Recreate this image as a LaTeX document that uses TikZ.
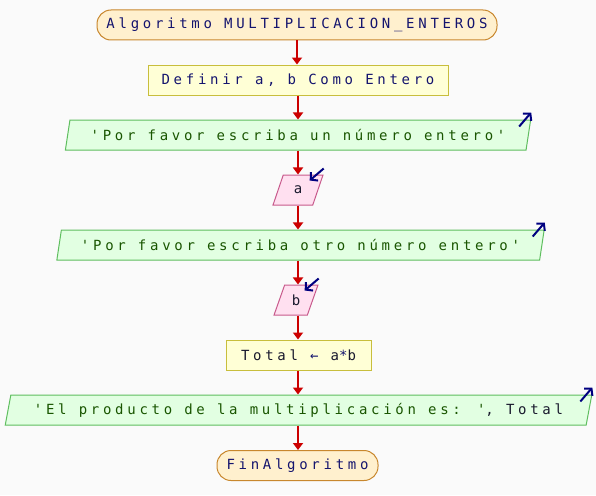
\documentclass[tikz,border=0pt]{standalone}
\usepackage{fontspec}
\usetikzlibrary{shapes.geometric,calc,arrows.meta}
\newfontfamily\psfont[LetterSpace=26.5,Ligatures=TeXOff]{DejaVu Sans Mono}
\definecolor{cbg}{RGB}{250,250,250}
\definecolor{cterm}{RGB}{200,135,45}
\definecolor{ctermfill}{RGB}{255,240,206}
\definecolor{cproc}{RGB}{200,190,60}
\definecolor{cprocfill}{RGB}{255,255,214}
\definecolor{cout}{RGB}{95,190,95}
\definecolor{coutfill}{RGB}{226,255,226}
\definecolor{cin}{RGB}{200,90,140}
\definecolor{cinfill}{RGB}{255,224,240}
\definecolor{carrow}{RGB}{204,0,0}
\definecolor{cblue}{RGB}{0,0,128}
\definecolor{ckey}{RGB}{20,20,110}
\definecolor{cstr}{RGB}{25,85,0}
\definecolor{cvar}{RGB}{25,25,45}
\tikzset{%
  term/.style={draw=cterm,fill=ctermfill,rounded corners=14pt,minimum height=30pt,
    inner sep=0pt,line width=1pt,text=ckey},
  proc/.style={draw=cproc,fill=cprocfill,minimum height=30pt,inner sep=0pt,
    line width=1pt,text=ckey},
  io/.style={trapezium,trapezium left angle=70,trapezium right angle=110,
    trapezium stretches=true,minimum height=30pt,inner sep=0pt,line width=1pt},
  outbox/.style={io,draw=cout,fill=coutfill,text=cstr},
  inbox/.style={io,draw=cin,fill=cinfill,text=cvar},
  flow/.style={draw=carrow,line width=2pt,-{Triangle[width=10pt,length=7pt]}},
  iomark/.style={cblue,line width=2pt,-{Straight Barb[length=5pt,width=11pt]}}
}
\NewDocumentCommand\outMark{m}{%
  \draw[iomark] ($(#1.top right corner)+(-12,7)$) -- ($(#1.top right corner)+(0,-7)$);
}
\NewDocumentCommand\inMark{m}{%
  \draw[iomark] ($(#1.top right corner)+(0,-6)$) -- ($(#1.top right corner)+(-14,6)$);
}

\begin{document}
\begin{tikzpicture}[x=1pt,y=-1pt,font=\psfont\fontsize{14pt}{16pt}\selectfont]
  % Background
  \fill[cbg] (0,0) rectangle (596,495);
  \useasboundingbox (0,0) rectangle (596,495);
  % Blocks
  \node[term,minimum width=400pt] (start) at (297,25) {Algoritmo MULTIPLICACION\_ENTEROS};
  \node[proc,minimum width=300pt] (def) at (298,80) {Definir a, b Como Entero};
  \node[outbox,minimum width=468pt] (out1) at (298,135) {'Por favor escriba un número entero'};
  \node[inbox,minimum width=50pt] (ina) at (298,190) {a};
  \node[outbox,minimum width=489pt] (out2) at (300.5,245) {'Por favor escriba otro número entero'};
  \node[inbox,minimum width=44pt] (inb) at (296,300) {b};
  \node[proc,minimum width=145pt,text=cvar] (total) at (298.5,355)
    {Total {\color{ckey}←} a{\color{ckey}*}b};
  \node[outbox,minimum width=589pt] (out3) at (298.5,410)
    {'El producto de la multiplicación es: '{\color{cvar}, Total}};
  \node[term,minimum width=161pt] (fin) at (297.5,465.5) {FinAlgoritmo};
  % Flow
  \draw[flow] (start.south) -- (start.south |- def.north);
  \draw[flow] (def.south) -- (def.south |- out1.north);
  \draw[flow] (def.south |- out1.south) -- (def.south |- ina.north);
  \draw[flow] (def.south |- ina.south) -- (def.south |- out2.north);
  \draw[flow] (def.south |- out2.south) -- (def.south |- inb.north);
  \draw[flow] (def.south |- inb.south) -- (def.south |- total.north);
  \draw[flow] (def.south |- total.south) -- (def.south |- out3.north);
  \draw[flow] (def.south |- out3.south) -- (def.south |- fin.north);
  % Input / output marks
  \outMark{out1}
  \inMark{ina}
  \outMark{out2}
  \inMark{inb}
  \outMark{out3}
\end{tikzpicture}
\end{document}
